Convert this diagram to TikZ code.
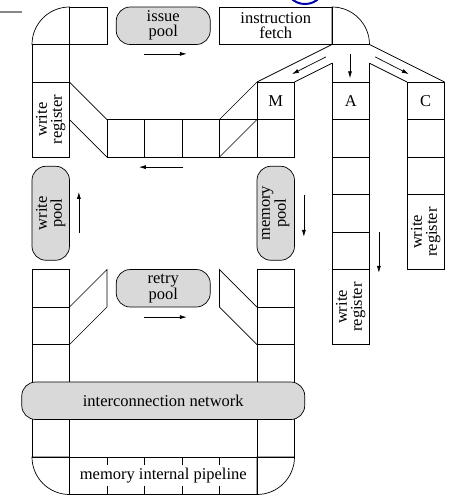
\documentclass[tikz,border=0pt]{standalone}
\usepackage{fontspec}
\setmainfont{Liberation Serif}
\usetikzlibrary{arrows.meta,positioning}
\newcommand\lbl{\fontsize{16.5}{15}\selectfont}
\tikzset{
  cell/.style={draw, line width=0.7pt, minimum width=37.5pt, minimum height=37.5pt, inner sep=0pt, outer sep=0pt, anchor=north west, align=center, font=\lbl},
  regbox/.style={draw, line width=0.7pt, rotate=90, minimum width=75pt, minimum height=37.5pt, inner sep=0pt, outer sep=0pt, align=center, font=\lbl},
  pool/.style={draw, line width=0.7pt, fill=gray!30, rounded corners=14pt, minimum width=94pt, minimum height=37.5pt, inner sep=0pt, align=center, font=\lbl},
  flow/.style={-{Latex[length=7pt,width=4pt]}, line width=0.7pt}
}
\begin{document}
\begin{tikzpicture}[x=37.5pt, y=-37.5pt, line width=0.7pt]
\useasboundingbox (-0.8533,-0.1867) rectangle (11.12,13.0667);
\fill[black!47] (-0.8533,0.107) rectangle (-0.267,0.173);
\draw[blue!70!black, line width=2pt] (7.28,-0.613) circle[radius=20pt];

% upper ring
\draw (0,1) .. controls (0,0.448) and (0.448,0) .. (1,0) -- (1,1) -- cycle;
\node[cell] (top1) at (1,0) {};
\node[pool] (issue) at (3.5,0.5) {issue\\pool};
\node[cell, minimum width=112.5pt] (fetch) at (5,0) {instruction\\fetch};
\draw (8,0) .. controls (8.552,0) and (9,0.448) .. (9,1) -- (8,1) -- cycle;
\node[cell] (left1) at (0,1) {};
\node[regbox] (wreg) at (0.5,3) {write\\register};
\node[cell] (row1) at (2,3) {};
\node[cell, right=0pt of row1] (row2) {};
\node[cell, right=0pt of row2] (row3) {};
\node[cell, right=0pt of row3] (row4) {};
\node[cell] (m1) at (6,2) {M};
\node[cell, below=0pt of m1] (m2) {};
\draw (1,2) -- (2,3) (1,3) -- (2,4);
\draw (6,2) -- (5,3) (6,3) -- (5,4);

% fan out to M, A, C
\draw (8,1) -- (6,2) (8,1.5) -- (7,2);
\draw (9,1) -- (11,2) (9,1.5) -- (10,2);
\draw (8,1.5) -- (8,2) (9,1.5) -- (9,2);
\node[cell] (a1) at (8,2) {A};
\node[cell, below=0pt of a1] (a2) {};
\node[cell, below=0pt of a2] (a3) {};
\node[cell, below=0pt of a3] (a4) {};
\node[cell, below=0pt of a4] (a5) {};
\node[regbox] (areg) at (8.5,8) {write\\register};
\node[cell] (c1) at (10,2) {C};
\node[cell, below=0pt of c1] (c2) {};
\node[cell, below=0pt of c2] (c3) {};
\node[regbox] (creg) at (10.5,6) {write\\register};

% side pools
\node[pool, rotate=90] (wpool) at (0.5,5.5) {write\\pool};
\node[pool, rotate=90] (mpool) at (6.5,5.5) {memory\\pool};

% lower ring
\node[cell] (left7) at (0,7) {};
\node[cell, below=0pt of left7] (left8) {};
\node[cell, minimum height=112.5pt] (left9) at (0,9) {};
\node[cell] (right7) at (6,7) {};
\node[cell, below=0pt of right7] (right8) {};
\node[cell, minimum height=112.5pt] (right9) at (6,9) {};
\draw (1,8) -- (2,7) -- (2,8) -- (1,9);
\draw (6,8) -- (5,7) -- (5,8) -- (6,9);
\node[pool] (retry) at (3.5,7.5) {retry\\pool};
\draw (0,12) .. controls (0,12.552) and (0.448,13) .. (1,13) -- (1,12) -- cycle;
\draw (7,12) .. controls (7,12.552) and (6.552,13) .. (6,13) -- (6,12) -- cycle;
\node[cell, minimum width=187.5pt] (pipe) at (1,12) {memory internal pipeline};
\foreach \t in {2,...,5} {\draw (\t,12) -- (\t,12.22) (\t,12.78) -- (\t,13);}
\node[pool, minimum width=283pt] (net) at (3.5,10.5) {interconnection network};

% flow arrows
\draw[flow] (3,1.25) -- (4.13,1.25);
\draw[flow] (4.02,4.27) -- (2.85,4.27);
\draw[flow] (3,8.27) -- (4.13,8.27);
\draw[flow] (1.25,6.03) -- (1.25,4.93);
\draw[flow] (7.25,5.0) -- (7.25,6.13);
\draw[flow] (8.48,1.25) -- (8.48,1.9);
\draw[flow] (9.25,6.0) -- (9.25,7.09);
\draw[flow] (7.84,1.33) -- (6.93,1.79);
\draw[flow] (9.15,1.33) -- (10.05,1.79);
\end{tikzpicture}
\end{document}
